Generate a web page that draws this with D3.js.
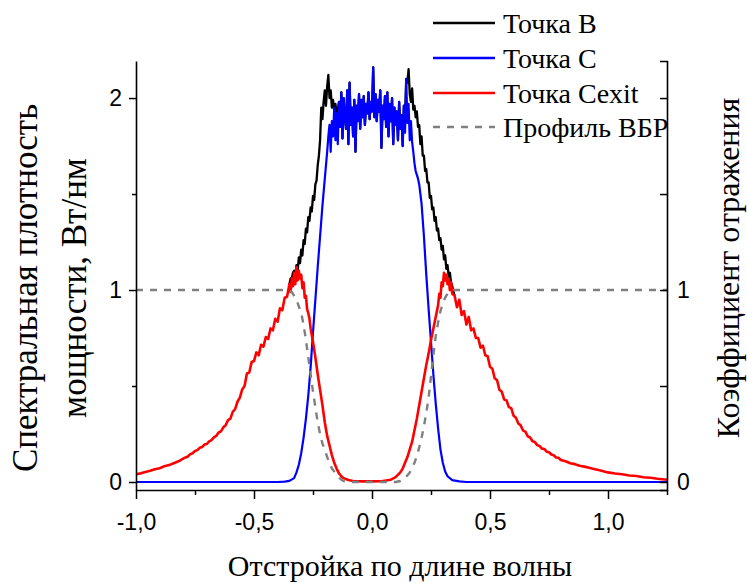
<!DOCTYPE html>
<html><head><meta charset="utf-8">
<script src="https://cdn.jsdelivr.net/npm/d3@7"></script>
<style>body{margin:0;background:#fff} svg{display:block}
.serif{font-family:"Liberation Serif","DejaVu Serif","Noto Serif","Times New Roman",Times,serif}
.sans{font-family:"Liberation Sans",Arial,"DejaVu Sans",sans-serif}
</style>
</head><body>
<svg id="c" width="747" height="583"></svg>
<script>
// ---- data ----
const xTicks = [-1, -0.5, 0, 0.5, 1];
const xMinorTicks = [-0.75, -0.25, 0.25, 0.75, 1.25];
const yTicksLeft = [0, 1, 2];
const yTicksRight = [0, 1];
const yMinorTicks = [0.5, 1.5, 2];

const legendLabels = ["Точка B", "Точка C", "Точка Cexit", "Профиль ВБР"];

// Точка B (black) – visible part above the red curve
const xB = [-0.35,-0.345,-0.34,-0.335,
 -0.33,-0.325,-0.32,-0.315,-0.31,-0.305,-0.30,-0.295,-0.29,-0.285,-0.28,-0.275,-0.27,-0.265,-0.26,-0.255,-0.25,-0.245,-0.24,-0.235,-0.23,-0.225,-0.22,-0.215,-0.21,-0.205,-0.20,-0.195,-0.19,-0.185,-0.18,-0.175,-0.17,-0.165,-0.16,-0.155,-0.15,-0.145,-0.14,
 -0.135,-0.130,-0.125,-0.120,-0.115,-0.110,-0.105,-0.100,-0.095,-0.090,-0.085,-0.080,-0.075,-0.070,-0.065,-0.060,-0.055,-0.050,-0.045,-0.040,-0.035,-0.030,-0.025,-0.020,-0.015,-0.010,-0.005,0.000,0.005,0.010,0.015,0.020,0.025,0.030,0.035,0.040,0.045,0.050,0.055,0.060,0.065,0.070,0.075,0.080,0.085,0.090,0.095,0.100,0.105,0.110,0.115,0.120,0.125,0.130,
 0.135,0.14,0.145,0.15,0.155,0.16,0.165,0.17,0.175,0.18,0.185,0.19,0.195,0.20,0.205,0.21,0.215,0.22,0.225,0.23,0.235,0.24,0.245,0.25,0.255,0.26,0.265,0.27,0.275,0.28,0.285,0.29,0.295,0.30,0.305,0.31,0.315,0.32,0.325,0.33,0.335,0.34,0.35];
const yB = [1.03,1.06,1.06,1.09,
 1.10,1.07,1.13,1.10,1.17,1.14,1.21,1.18,1.26,1.24,1.32,1.30,1.38,1.36,1.43,1.41,1.49,1.47,1.55,1.57,1.65,1.70,1.78,1.95,1.89,1.98,2.04,1.96,2.06,2.12,2.00,2.04,1.95,1.99,1.93,1.97,1.92,1.94,1.98,
 1.85,2.03,1.79,2.00,1.90,1.84,2.04,1.76,2.08,1.86,1.95,1.80,1.99,1.72,1.96,1.88,2.02,1.84,1.99,1.90,2.01,1.86,1.97,1.92,2.03,1.89,1.98,1.93,2.16,1.90,2.02,1.88,1.99,1.93,2.04,1.74,1.96,1.89,2.01,1.85,2.03,1.80,1.97,1.88,2.00,1.76,1.95,1.86,1.93,1.78,1.98,1.84,1.91,1.75,
 1.96,1.90,2.10,2.08,2.15,2.02,1.98,2.05,1.94,1.96,1.90,1.93,1.85,1.86,1.76,1.80,1.70,1.70,1.62,1.63,1.56,1.56,1.48,1.49,1.42,1.43,1.36,1.38,1.31,1.32,1.26,1.27,1.21,1.23,1.16,1.18,1.11,1.13,1.07,1.09,1.04,1.02,0.97];

// Точка C (blue)
const xC = [-1.00,-0.40,-0.37,-0.35,-0.33,-0.32,-0.31,-0.30,-0.29,-0.28,-0.27,-0.26,-0.25,-0.24,-0.23,-0.22,-0.21,-0.20,-0.19,-0.185,
 -0.180,-0.175,-0.170,-0.165,-0.160,-0.155,-0.150,-0.145,-0.140,-0.135,-0.130,-0.125,-0.120,-0.115,-0.110,-0.105,-0.100,-0.095,-0.090,-0.085,-0.080,-0.075,-0.070,-0.065,-0.060,-0.055,-0.050,-0.045,-0.040,-0.035,-0.030,-0.025,-0.020,-0.015,-0.010,-0.005,0.000,0.005,0.010,0.015,0.020,0.025,0.030,0.035,0.040,0.045,0.050,0.055,0.060,0.065,0.070,0.075,0.080,0.085,0.090,0.095,0.100,0.105,0.110,0.115,0.120,0.125,0.130,0.135,0.140,0.145,0.150,0.155,0.160,0.165,0.170,
 0.175,0.18,0.185,0.19,0.195,0.20,0.21,0.22,0.23,0.24,0.25,0.26,0.27,0.28,0.29,0.30,0.31,0.32,0.34,0.37,0.40,1.25];
const yC = [0,0,0.002,0.006,0.02,0.05,0.09,0.15,0.23,0.33,0.45,0.60,0.78,0.95,1.12,1.28,1.44,1.58,1.72,1.80,
 1.86,1.72,1.88,1.80,1.95,1.78,1.92,1.76,1.98,1.85,2.03,1.79,2.00,1.90,1.84,2.04,1.76,2.08,1.86,1.95,1.80,1.99,1.72,1.96,1.88,2.02,1.84,1.99,1.90,2.01,1.86,1.97,1.92,2.03,1.89,1.98,1.93,2.16,1.90,2.02,1.88,1.99,1.93,2.04,1.74,1.96,1.89,2.01,1.85,2.03,1.80,1.97,1.88,2.00,1.76,1.95,1.86,1.93,1.78,1.98,1.84,1.91,1.75,1.96,1.82,2.10,1.87,1.97,1.78,1.88,1.77,
 1.72,1.66,1.62,1.60,1.58,1.55,1.45,1.28,1.08,0.90,0.73,0.56,0.41,0.28,0.17,0.10,0.055,0.03,0.01,0.003,0,0];

// Точка Cexit (red)
const xCexit = [-1.00,-0.98,-0.96,-0.94,-0.92,-0.90,-0.88,-0.86,-0.84,-0.82,
 -0.80,-0.79,-0.78,-0.77,-0.76,-0.75,-0.74,-0.73,-0.72,-0.71,-0.70,-0.69,-0.68,-0.67,-0.66,-0.65,-0.64,-0.63,-0.62,-0.61,-0.60,-0.59,-0.58,-0.57,-0.56,-0.55,-0.54,-0.53,-0.52,-0.51,-0.50,-0.49,-0.48,-0.47,-0.46,-0.45,-0.44,-0.43,-0.42,-0.41,-0.40,-0.39,-0.38,-0.37,-0.36,
 -0.35,-0.345,-0.34,-0.335,-0.33,-0.325,-0.32,-0.315,-0.31,-0.305,-0.30,-0.295,-0.29,-0.285,-0.28,-0.275,-0.27,-0.265,-0.26,-0.25,-0.24,-0.23,-0.22,-0.21,-0.20,-0.19,-0.18,-0.17,-0.16,-0.15,-0.14,-0.13,-0.12,-0.10,-0.08,-0.04,0.00,0.04,0.08,0.10,0.12,0.13,0.14,0.15,0.16,0.17,0.18,0.19,0.20,0.21,0.22,0.23,0.24,0.25,0.26,0.27,0.28,0.285,0.29,0.295,0.30,0.305,0.31,0.315,0.32,0.325,0.33,0.335,
 0.34,0.35,0.36,0.37,0.38,0.39,0.40,0.41,0.42,0.43,0.44,0.45,0.46,0.47,0.48,0.49,0.50,0.51,0.52,0.53,0.54,0.55,0.56,0.57,0.58,0.59,0.60,0.61,0.62,0.63,0.64,0.65,0.66,0.67,0.68,0.69,0.70,0.71,0.72,0.73,0.74,0.75,0.76,0.77,0.78,0.79,0.80,0.82,0.84,0.86,0.88,0.90,0.92,0.94,0.96,0.98,1.00,1.03,1.06,1.09,1.12,1.15,1.18,1.21,1.25];
const yCexit = [0.040,0.045,0.052,0.058,0.066,0.072,0.082,0.088,0.098,0.108,
 0.122,0.128,0.133,0.145,0.150,0.162,0.166,0.178,0.182,0.195,0.198,0.212,0.218,0.232,0.240,0.258,0.264,0.285,0.296,0.322,0.330,0.365,0.380,0.418,0.440,0.482,0.500,0.565,0.570,0.625,0.630,0.675,0.660,0.715,0.705,0.755,0.745,0.800,0.790,0.850,0.835,0.905,0.895,0.960,0.965,
 1.03,0.99,1.06,1.02,1.09,1.03,1.12,1.05,1.10,1.06,1.08,1.01,1.04,0.96,0.97,0.90,0.88,0.85,0.80,0.73,0.65,0.56,0.48,0.40,0.31,0.24,0.19,0.14,0.10,0.07,0.045,0.03,0.02,0.01,0.005,0.003,0.003,0.004,0.012,0.025,0.05,0.07,0.10,0.13,0.17,0.21,0.27,0.33,0.40,0.47,0.54,0.61,0.67,0.74,0.80,0.86,0.92,0.98,0.96,1.04,1.02,1.09,1.05,1.08,1.03,1.06,1.00,1.04,
 0.98,0.97,0.91,0.95,0.87,0.89,0.82,0.86,0.79,0.80,0.75,0.75,0.70,0.71,0.66,0.655,0.60,0.59,0.54,0.53,0.48,0.47,0.43,0.425,0.39,0.385,0.345,0.335,0.305,0.295,0.268,0.262,0.238,0.232,0.212,0.208,0.192,0.188,0.174,0.172,0.158,0.155,0.143,0.139,0.128,0.126,0.115,0.108,0.098,0.093,0.085,0.080,0.074,0.068,0.062,0.056,0.050,0.044,0.040,0.034,0.031,0.025,0.022,0.017,0.012];

// Профиль ВБР (gray dashed)
const xFBG = [-1.00,-0.36,-0.34,-0.32,-0.30,-0.29,-0.28,-0.27,-0.26,-0.25,-0.24,-0.23,-0.22,-0.21,-0.20,-0.19,-0.18,-0.17,-0.16,-0.15,-0.14,-0.13,-0.12,-0.10,0.10,0.12,0.14,0.16,0.18,0.19,0.20,0.21,0.22,0.23,0.24,0.25,0.26,0.27,0.28,0.29,0.30,0.31,0.32,0.34,1.25];
const yFBG = [1.0,1.0,0.99,0.95,0.88,0.82,0.74,0.65,0.56,0.47,0.39,0.31,0.25,0.20,0.17,0.13,0.10,0.07,0.055,0.04,0.025,0.012,0.005,0.0,0.0,0.005,0.02,0.05,0.10,0.135,0.18,0.23,0.29,0.36,0.44,0.55,0.66,0.76,0.83,0.89,0.93,0.96,0.98,1.0,1.0];

// ---- drawing ----
const svg = d3.select("#c");
const L = 136, R = 667, T = 61, B = 490;
const x = d3.scaleLinear().domain([-1, 1.25]).range([L, R]);
const y = d3.scaleLinear().domain([-0.0417, 2.193]).range([B, T]);

svg.append("defs").append("clipPath").attr("id","clip")
  .append("rect").attr("x",L).attr("y",T-10).attr("width",R-L).attr("height",B-T+10);

const line = d3.line().x(d=>x(d[0])).y(d=>y(d[1]));
const zip = (a,b)=>a.map((v,i)=>[v,b[i]]);

const series = [
  {xs:xB, ys:yB, color:"#000000", w:2.3, dash:null},
  {xs:xC, ys:yC, color:"#0000ff", w:2.2, dash:null},
  {xs:xCexit, ys:yCexit, color:"#ff0000", w:2.6, dash:null},
  {xs:xFBG, ys:yFBG, color:"#808080", w:2.4, dash:"7,7"}
];
const g = svg.append("g").attr("clip-path","url(#clip)");
series.forEach(s=>{
  g.append("path").datum(zip(s.xs,s.ys)).attr("d",line)
   .attr("fill","none").attr("stroke",s.color).attr("stroke-width",s.w)
   .attr("stroke-dasharray",s.dash).attr("stroke-linejoin","round");
});

const loc = d3.formatLocale({decimal:",",thousands:" ",grouping:[3],currency:["",""],minus:"-"});
const fx = loc.format(".1f");

function styleAxis(sel){
  sel.attr("font-family",null).attr("font-size",null);
  sel.selectAll("path.domain").attr("stroke","#000").attr("stroke-width",1.6);
  sel.selectAll(".tick line").attr("stroke","#000").attr("stroke-width",1.5);
  sel.selectAll("text").attr("class","sans").style("font-size","23px").attr("fill","#000");
}

// bottom axis
const gx = svg.append("g").attr("transform",`translate(0,${B})`)
  .call(d3.axisBottom(x).tickValues(xTicks).tickFormat(fx).tickSize(9).tickSizeOuter(0).tickPadding(15));
styleAxis(gx);
const gxm = svg.append("g").attr("transform",`translate(0,${B})`)
  .call(d3.axisBottom(x).tickValues(xMinorTicks).tickFormat("").tickSize(5).tickSizeOuter(0));
gxm.select("path.domain").remove();
styleAxis(gxm);

// left axis
const gy = svg.append("g").attr("transform",`translate(${L},0)`)
  .call(d3.axisLeft(y).tickValues(yTicksLeft).tickFormat(d3.format("d")).tickSize(7).tickSizeOuter(0).tickPadding(7));
styleAxis(gy);
const gym = svg.append("g").attr("transform",`translate(${L},0)`)
  .call(d3.axisLeft(y).tickValues(yMinorTicks.filter(v=>v!==2)).tickFormat("").tickSize(4).tickSizeOuter(0));
gym.select("path.domain").remove();
styleAxis(gym);

// right axis (ticks pointing inward)
const gr = svg.append("g").attr("transform",`translate(${R},0)`)
  .call(d3.axisRight(y).tickValues(yTicksRight).tickFormat(d3.format("d")).tickSizeInner(-7).tickSizeOuter(-7).tickPadding(10));
styleAxis(gr);
const grm = svg.append("g").attr("transform",`translate(${R},0)`)
  .call(d3.axisRight(y).tickValues(yMinorTicks).tickFormat("").tickSizeInner(-7).tickSizeOuter(0));
grm.select("path.domain").remove();
styleAxis(grm);

// axis titles
function title(tr, txt, size){
  svg.append("text").attr("class","serif").attr("transform",tr).attr("text-anchor","middle")
    .style("font-size",size+"px").text(txt);
}
title("translate(400,576)", "Отстройка по длине волны", 30);
title("translate(37,288) rotate(-90)", "Спектральная плотность", 35);
title("translate(86,288) rotate(-90)", "мощности, Вт/нм", 35);
title("translate(739,268) rotate(-90)", "Коэффициент отражения", 32);

// legend
const legY = [23, 58, 93, 127];
legendLabels.forEach((lab,i)=>{
  const s = series[i];
  svg.append("line").attr("x1",433).attr("x2",495).attr("y1",legY[i]).attr("y2",legY[i])
    .attr("stroke",s.color).attr("stroke-width",2.4).attr("stroke-dasharray",s.dash);
  svg.append("text").attr("class","serif").attr("x",503).attr("y",legY[i]).attr("dy","0.35em")
    .style("font-size","28px").text(lab);
});
</script>
</body></html>
